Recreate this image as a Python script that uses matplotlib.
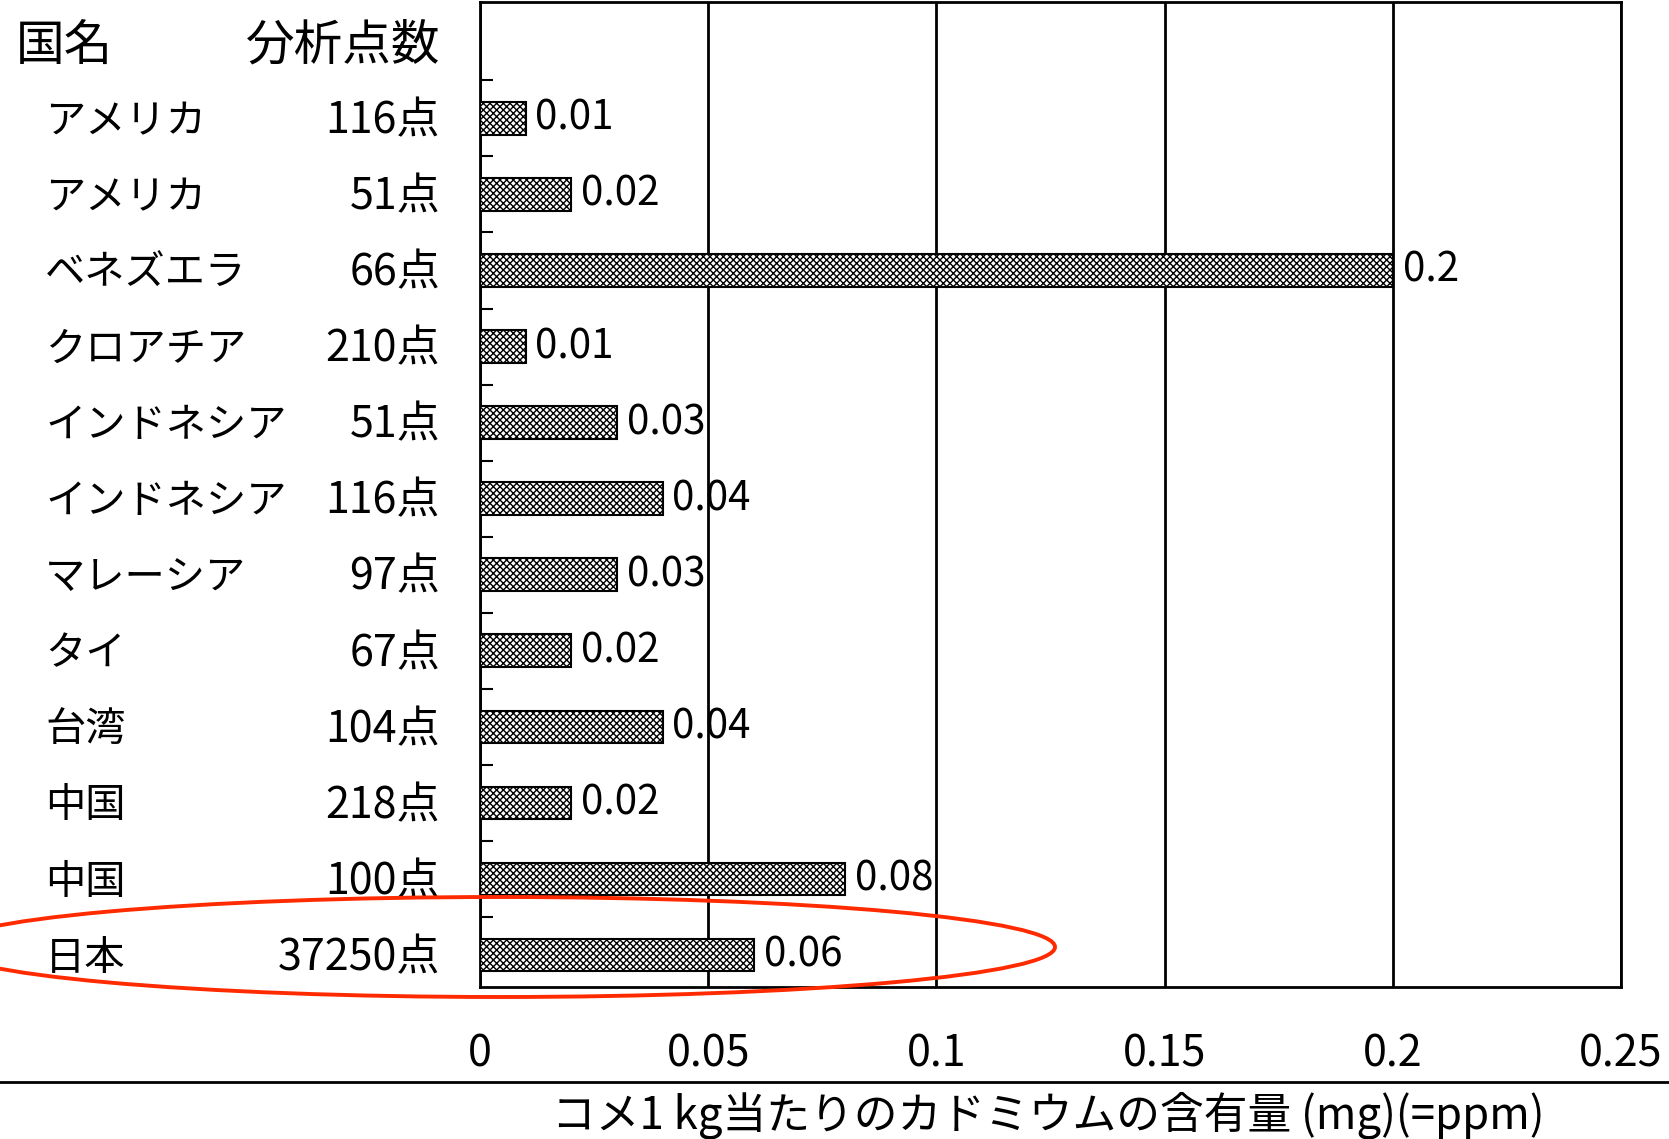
import numpy as np
import matplotlib
matplotlib.use("Agg")
import matplotlib.pyplot as plt
from matplotlib.patches import Ellipse
from matplotlib.lines import Line2D
from matplotlib.transforms import blended_transform_factory

plt.rcParams['font.family'] = ['Noto Sans CJK JP', 'DejaVu Sans']
plt.rcParams['hatch.linewidth'] = 1.0

# data (top to bottom)
countries = ["アメリカ", "アメリカ", "ベネズエラ", "クロアチア", "インドネシア", "インドネシア",
             "マレーシア", "タイ", "台湾", "中国", "中国", "日本"]
samples = ["116点", "51点", "66点", "210点", "51点", "116点",
           "97点", "67点", "104点", "218点", "100点", "37250点"]
values = [0.01, 0.02, 0.2, 0.01, 0.03, 0.04, 0.03, 0.02, 0.04, 0.02, 0.08, 0.06]
value_labels = ["0.01", "0.02", "0.2", "0.01", "0.03", "0.04",
                "0.03", "0.02", "0.04", "0.02", "0.08", "0.06"]
x_ticks = [0, 0.05, 0.1, 0.15, 0.2, 0.25]
x_tick_labels = ["0", "0.05", "0.1", "0.15", "0.2", "0.25"]

W, H = 1669, 1139
FS = 29

fig = plt.figure(figsize=(W / 100, H / 100), dpi=100)
fig.patch.set_facecolor("white")
ax = fig.add_axes([480 / W, 1 - 987 / H, (1621 - 480) / W, (987 - 2) / H])

ypos = np.arange(1, len(values) + 1)
bars = ax.barh(ypos, values, height=0.43, color="white", edgecolor="black",
               hatch="xxxxx", linewidth=1.5, zorder=3)
ax.bar_label(bars, labels=value_labels, padding=7, fontsize=FS, zorder=2)

ax.set_xlim(0, 0.25)
ax.set_ylim(12.42, -0.53)
ax.set_xticks(x_ticks, x_tick_labels, fontsize=FS + 2)
ax.set_yticks(np.arange(0.5, len(values)), [])
ax.tick_params(axis="x", length=0, pad=33)
ax.tick_params(axis="y", direction="in", length=9, width=1.5)
ax.grid(axis="x", color="black", linewidth=2.0, zorder=2.5)
ax.set_axisbelow(False)
for s in ax.spines.values():
    s.set_linewidth(2.0)

# left-hand table of labels
tr = blended_transform_factory(fig.transFigure, ax.transData)
ax.text(16 / W, 0.05, "国名", transform=tr, ha="left", va="center", fontsize=35)
ax.text(440 / W, 0.05, "分析点数", transform=tr, ha="right", va="center", fontsize=35)
for y, name, n in zip(ypos, countries, samples):
    ax.text(45 / W, y + 0.04, name, transform=tr, ha="left", va="center", fontsize=FS)
    ax.text(440 / W, y + 0.04, n, transform=tr, ha="right", va="center", fontsize=FS + 2)

# rule and axis title
fig.add_artist(Line2D([0, 1], [1 - 1082 / H] * 2, transform=fig.transFigure,
                      color="black", linewidth=2.0))
fig.text(1048 / W, 1 - 1115 / H, "コメ1 kg当たりのカドミウムの含有量 (mg)(=ppm)",
         ha="center", va="center", fontsize=31.5)

# red highlight around 日本
fig.add_artist(Ellipse((500 / W, 1 - 947 / H), 1110 / W, 100 / H,
                       transform=fig.transFigure, fill=False,
                       edgecolor="#ff2a00", linewidth=2.8, zorder=10))

fig.savefig("out.png", dpi=100, facecolor="white")
